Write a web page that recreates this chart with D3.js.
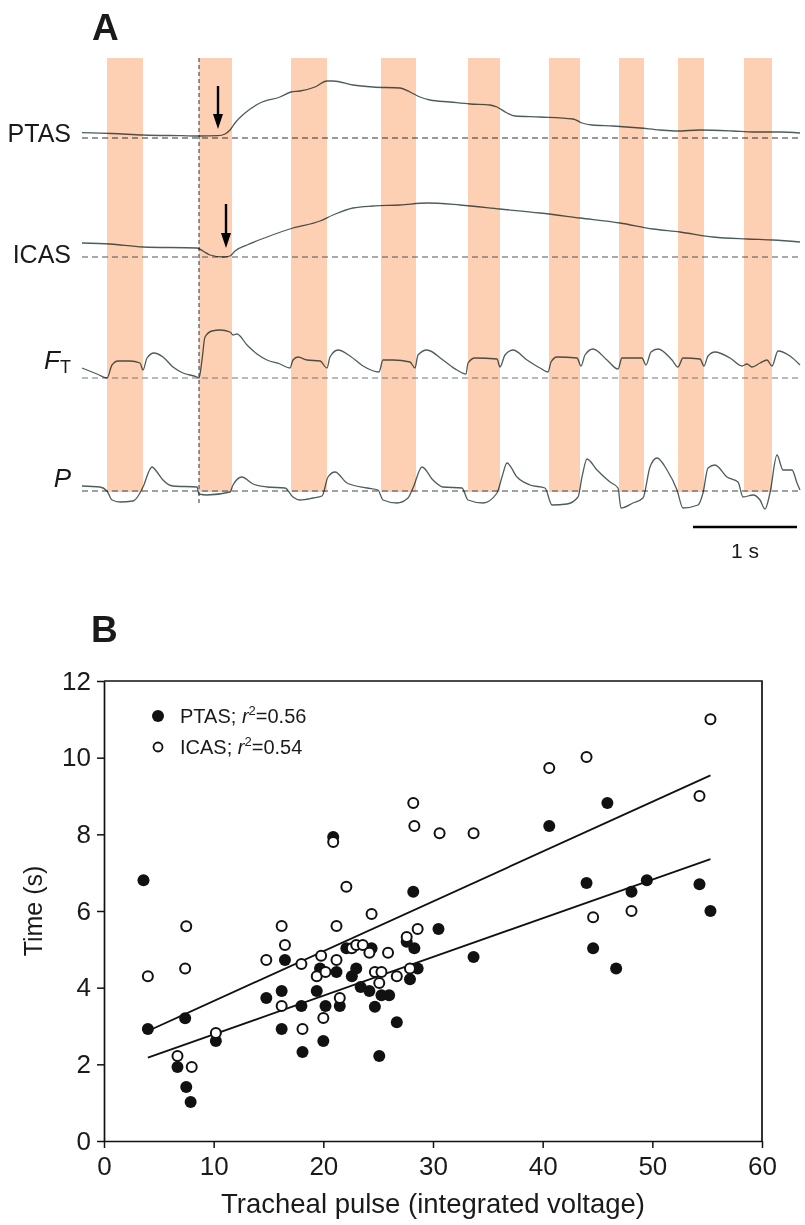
<!DOCTYPE html>
<html><head><meta charset="utf-8">
<script src="https://cdn.jsdelivr.net/npm/d3@7"></script>
<style>body{margin:0;background:#fff} svg{display:block}</style>
</head><body><svg id="c" width="805" height="1225"></svg>
<script>
// ---------- Panel A data (time in samples, 104 samples = 1 s; values in arbitrary units above baseline)
const bandStarts = [25,117,209,299,386,467,537,596,662];
const bandEnds   = [61,150,245,334,418,498,562,622,690];
const stimOnset = 117;
const scaleBarSamples = 104;
const traceNames = ["PTAS","ICAS","F","P"];

const ptasT = [0,30,61,100,117,136,143,148,153,163,178,198,209,218,233,245,251,271,291,318,328,338,348,368,388,408,415,425,433,458,491,500,510,531,558,578,595,618,651,671,698,718];
const ptasV = [5.3,4.5,3,2.3,2,2.3,4,8,15,25,35,41,46,47,51,57,57,53,51,50,46,41,38,36,34,33,31,25,22,21,19,15,13,12,10,8,7,8,7,6,6,5];

const icasT = [0,28,61,115,121,128,141,148,153,165,185,211,238,251,271,291,318,345,378,418,458,498,538,571,598,631,665,691,718];
const icasV = [14,13,10,9,6,2,0,1,6,12,20,29,36,42,49,51,52,54,52,48,44,39,34,28,25,20,18,17,15];

const ftT = [0,15,25,30,36,48,58,61,65,72,81,91,101,115,117,120,123,130,138,148,151,155,165,175,185,198,208,211,216,225,238,245,248,256,268,281,297,301,311,328,333,336,345,361,375,384,386,393,415,418,423,431,445,458,466,469,475,495,499,503,511,525,536,540,560,564,569,576,590,596,601,618,622,626,633,648,660,665,670,678,685,690,696,708,718];
const ftV = [10,4,0,13,17,17,15,8,20,25,21,11,5,1,0,18,41,47,48,46,43,44,33,24,18,14,10,18,21,18,17,10,21,28,22,12,6,18,18,16,10,23,28,18,8,4,15,20,19,11,23,28,18,10,6,16,21,20,12,23,29,18,9,20,20,13,26,29,18,11,20,19,12,22,26,20,12,14,11,15,18,12,27,22,13];

const pT = [0,18,25,30,38,51,58,61,70,75,81,91,115,117,125,148,151,160,171,185,203,211,218,231,240,246,253,265,285,296,301,315,326,331,340,351,361,380,386,401,415,420,425,435,448,463,470,485,496,500,505,515,528,536,539,551,561,568,575,585,595,601,616,621,626,633,645,656,661,671,678,683,688,695,701,710,715,718];
const pV = [5,4,0,-9,-11,-10,-2,4,24,19,11,5,4,-3,-4,-1,6,14,7,4,3,-6,-9,-7,-5,14,19,8,3,1,-9,-12,-7,3,24,11,4,3,-9,-12,-2,14,28,14,6,3,-14,-13,-6,14,32,21,9,3,-17,-12,-7,24,33,21,1,-17,-14,-2,23,26,14,9,-6,-4,-9,-18,-2,36,21,21,8,1];

// ---------- Panel B data
const xTicks = [0,10,20,30,40,50,60];
const yTicks = [0,2,4,6,8,10,12];
const ptasX = [3.6,4.0,7.4,6.7,7.5,7.9,10.2,14.8,16.5,16.2,16.2,18.0,18.1,19.7,19.4,20.2,20.0,21.2,21.5,20.9,22.1,22.6,23.0,23.4,24.2,24.4,24.7,25.3,26.0,25.1,26.7,27.6,27.9,28.6,28.3,28.2,30.5,33.7,40.6,44.0,44.6,45.9,46.7,48.1,49.5,54.3,55.3];
const ptasY = [6.8,2.92,3.2,1.93,1.41,1.02,2.61,3.73,4.72,3.91,2.92,3.52,2.32,4.5,3.91,3.52,2.61,4.41,3.52,7.93,5.03,4.3,4.5,4.02,3.91,5.03,3.5,3.8,3.8,2.22,3.1,5.2,4.22,4.5,5.03,6.5,5.53,4.8,8.22,6.73,5.03,8.82,4.5,6.5,6.8,6.7,6.0];
const icasX = [4.0,7.5,7.4,6.7,8.0,10.2,14.8,16.2,16.5,16.2,18.0,18.1,19.8,19.4,20.2,20.0,21.2,21.2,21.5,20.9,22.1,22.6,23.0,23.6,24.4,24.2,25.9,24.7,25.3,25.1,26.7,27.9,27.6,28.6,28.2,28.3,30.6,33.7,40.6,44.0,44.6,48.1,54.3,55.3];
const icasY = [4.3,5.6,4.5,2.22,1.93,2.82,4.72,5.61,5.11,3.52,4.62,2.92,4.83,4.3,4.41,3.21,5.61,4.72,3.73,7.8,6.63,5.03,5.11,5.11,5.92,4.91,4.91,4.41,4.41,4.12,4.3,4.5,5.32,5.53,8.82,8.22,8.03,8.03,9.73,10.02,5.84,6.0,9.0,11.0];
const fitRange = [4.0, 55.3];
const ptasFit = {a: 1.77, b: 0.101};
const icasFit = {a: 2.35, b: 0.130};
const legendLabels = ["PTAS; ", "ICAS; "];
const legendR2 = ["0.56", "0.54"];

// ---------- Drawing
const svg = d3.select("#c");
const SANS = "'Liberation Sans', Arial, Helvetica, sans-serif";

// Panel A
const tx = d3.scaleLinear().domain([0, 718]).range([82, 800]);
const bandTop = 58, bandBottom = 492;
svg.append("text").attr("x", 92).attr("y", 40).attr("font-family", SANS).attr("font-weight", "bold")
  .attr("font-size", 37).attr("fill", "#1a1a1a").text("A");

svg.append("g").selectAll("rect").data(bandStarts).join("rect")
  .attr("x", (d) => tx(d)).attr("width", (d, i) => tx(bandEnds[i]) - tx(d))
  .attr("y", bandTop).attr("height", bandBottom - bandTop).attr("fill", "#fdcfb3");

svg.append("line").attr("x1", tx(stimOnset)).attr("x2", tx(stimOnset)).attr("y1", bandTop).attr("y2", 505)
  .attr("stroke", "#333").attr("stroke-width", 1).attr("stroke-dasharray", "4,3");

const baselines = [138, 257, 378, 491];
const traces = [[ptasT, ptasV],[icasT, icasV],[ftT, ftV],[pT, pV]];
const dashColors = ["#333", "#555", "#777", "#444"];
traces.forEach((tr, k) => {
  const ys = d3.scaleLinear().domain([0, 60]).range([baselines[k], baselines[k] - 60]);
  svg.append("line").attr("x1", tx(0)).attr("x2", tx(718)).attr("y1", ys(0)).attr("y2", ys(0))
    .attr("stroke", dashColors[k]).attr("stroke-width", 1.1).attr("stroke-dasharray", "6,4");
  const pts = tr[0].map((t, i) => [t, tr[1][i]]);
  const line = d3.line().x((d) => tx(d[0])).y((d) => ys(d[1])).curve(d3.curveMonotoneX);
  svg.append("path").attr("d", line(pts)).attr("fill", "none").attr("stroke", "#4d5d5d")
    .attr("stroke-width", 1.3).style("mix-blend-mode", "multiply");
});

// trace labels
svg.append("text").attr("x", 71).attr("y", 142).attr("text-anchor", "end").attr("font-family", SANS)
  .attr("font-size", 25).attr("fill", "#1a1a1a").text("PTAS");
svg.append("text").attr("x", 71).attr("y", 263).attr("text-anchor", "end").attr("font-family", SANS)
  .attr("font-size", 25).attr("fill", "#1a1a1a").text("ICAS");
const ftl = svg.append("text").attr("x", 71).attr("y", 369).attr("text-anchor", "end").attr("font-family", SANS)
  .attr("font-size", 26).attr("fill", "#1a1a1a");
ftl.append("tspan").attr("font-style", "italic").text("F");
ftl.append("tspan").attr("font-size", 18).attr("dy", 4).text("T");
svg.append("text").attr("x", 71).attr("y", 487).attr("text-anchor", "end").attr("font-family", SANS)
  .attr("font-size", 26).attr("font-style", "italic").attr("fill", "#1a1a1a").text("P");

// arrows
function arrow(x, y1, y2) {
  svg.append("line").attr("x1", x).attr("x2", x).attr("y1", y1).attr("y2", y2 - 12)
    .attr("stroke", "#000").attr("stroke-width", 2.4);
  svg.append("path").attr("d", `M${x - 5},${y2 - 15} L${x + 5},${y2 - 15} L${x},${y2} Z`).attr("fill", "#000");
}
arrow(tx(136), 86, 129);
arrow(tx(144), 204, 248);

// scale bar
svg.append("line").attr("x1", tx(611)).attr("x2", tx(611 + scaleBarSamples)).attr("y1", 527).attr("y2", 527)
  .attr("stroke", "#000").attr("stroke-width", 2.5);
svg.append("text").attr("x", (tx(611) + tx(611 + scaleBarSamples)) / 2).attr("y", 558).attr("text-anchor", "middle")
  .attr("font-family", SANS).attr("font-size", 21).attr("fill", "#1a1a1a").text("1 s");

// Panel B
svg.append("text").attr("x", 91).attr("y", 642).attr("font-family", SANS).attr("font-weight", "bold")
  .attr("font-size", 37).attr("fill", "#1a1a1a").text("B");

const xS = d3.scaleLinear().domain([0, 60]).range([104, 762]);
const yS = d3.scaleLinear().domain([0, 12]).range([1141, 681]);

const gx = svg.append("g").attr("transform", `translate(0,${yS(0)})`)
  .call(d3.axisBottom(xS).tickValues(xTicks).tickSize(7).tickSizeOuter(0).tickPadding(9));
gx.selectAll("text").attr("font-family", SANS).attr("font-size", 26).attr("fill", "#1a1a1a");
const gy = svg.append("g").attr("transform", `translate(${xS(0)},0)`)
  .call(d3.axisLeft(yS).tickValues(yTicks).tickSize(7).tickSizeOuter(0).tickPadding(6));
gy.selectAll("text").attr("font-family", SANS).attr("font-size", 26).attr("fill", "#1a1a1a");
[gx, gy].forEach((g) => {
  g.select(".domain").attr("stroke", "#111").attr("stroke-width", 1.7);
  g.selectAll(".tick line").attr("stroke", "#111").attr("stroke-width", 1.5);
});
svg.append("path").attr("d", `M${xS(0)},${yS(12)} H${xS(60)} V${yS(0)}`).attr("fill", "none")
  .attr("stroke", "#111").attr("stroke-width", 1.7);

svg.append("text").attr("transform", `translate(42,${(yS(0) + yS(12)) / 2}) rotate(-90)`).attr("text-anchor", "middle")
  .attr("font-family", SANS).attr("font-size", 25).attr("fill", "#1a1a1a").text("Time (s)");
svg.append("text").attr("x", (xS(0) + xS(60)) / 2).attr("y", 1213).attr("text-anchor", "middle")
  .attr("font-family", SANS).attr("font-size", 27.5).attr("fill", "#1a1a1a").text("Tracheal pulse (integrated voltage)");

// fit lines
[icasFit, ptasFit].forEach((f) => {
  svg.append("line").attr("x1", xS(fitRange[0])).attr("y1", yS(f.a + f.b * fitRange[0]))
    .attr("x2", xS(fitRange[1])).attr("y2", yS(f.a + f.b * fitRange[1]))
    .attr("stroke", "#111").attr("stroke-width", 1.8);
});

// points
svg.append("g").selectAll("circle").data(ptasX).join("circle")
  .attr("cx", (d) => xS(d)).attr("cy", (d, i) => yS(ptasY[i])).attr("r", 6).attr("fill", "#111");
svg.append("g").selectAll("circle").data(icasX).join("circle")
  .attr("cx", (d) => xS(d)).attr("cy", (d, i) => yS(icasY[i])).attr("r", 5).attr("fill", "#fff")
  .attr("stroke", "#111").attr("stroke-width", 2);

// legend
const legY = [716, 747];
legendLabels.forEach((lab, i) => {
  const c = svg.append("circle").attr("cx", 158).attr("cy", legY[i]);
  if (i === 0) c.attr("r", 6).attr("fill", "#111");
  else c.attr("r", 4.5).attr("fill", "#fff").attr("stroke", "#111").attr("stroke-width", 1.8);
  const t = svg.append("text").attr("x", 180).attr("y", legY[i] + 7).attr("font-family", SANS)
    .attr("font-size", 20).attr("fill", "#1a1a1a");
  t.append("tspan").text(lab);
  t.append("tspan").attr("font-style", "italic").text("r");
  t.append("tspan").attr("font-size", 13).attr("dy", -8).text("2");
  t.append("tspan").attr("dy", 8).text("=" + legendR2[i]);
});
</script></body></html>
